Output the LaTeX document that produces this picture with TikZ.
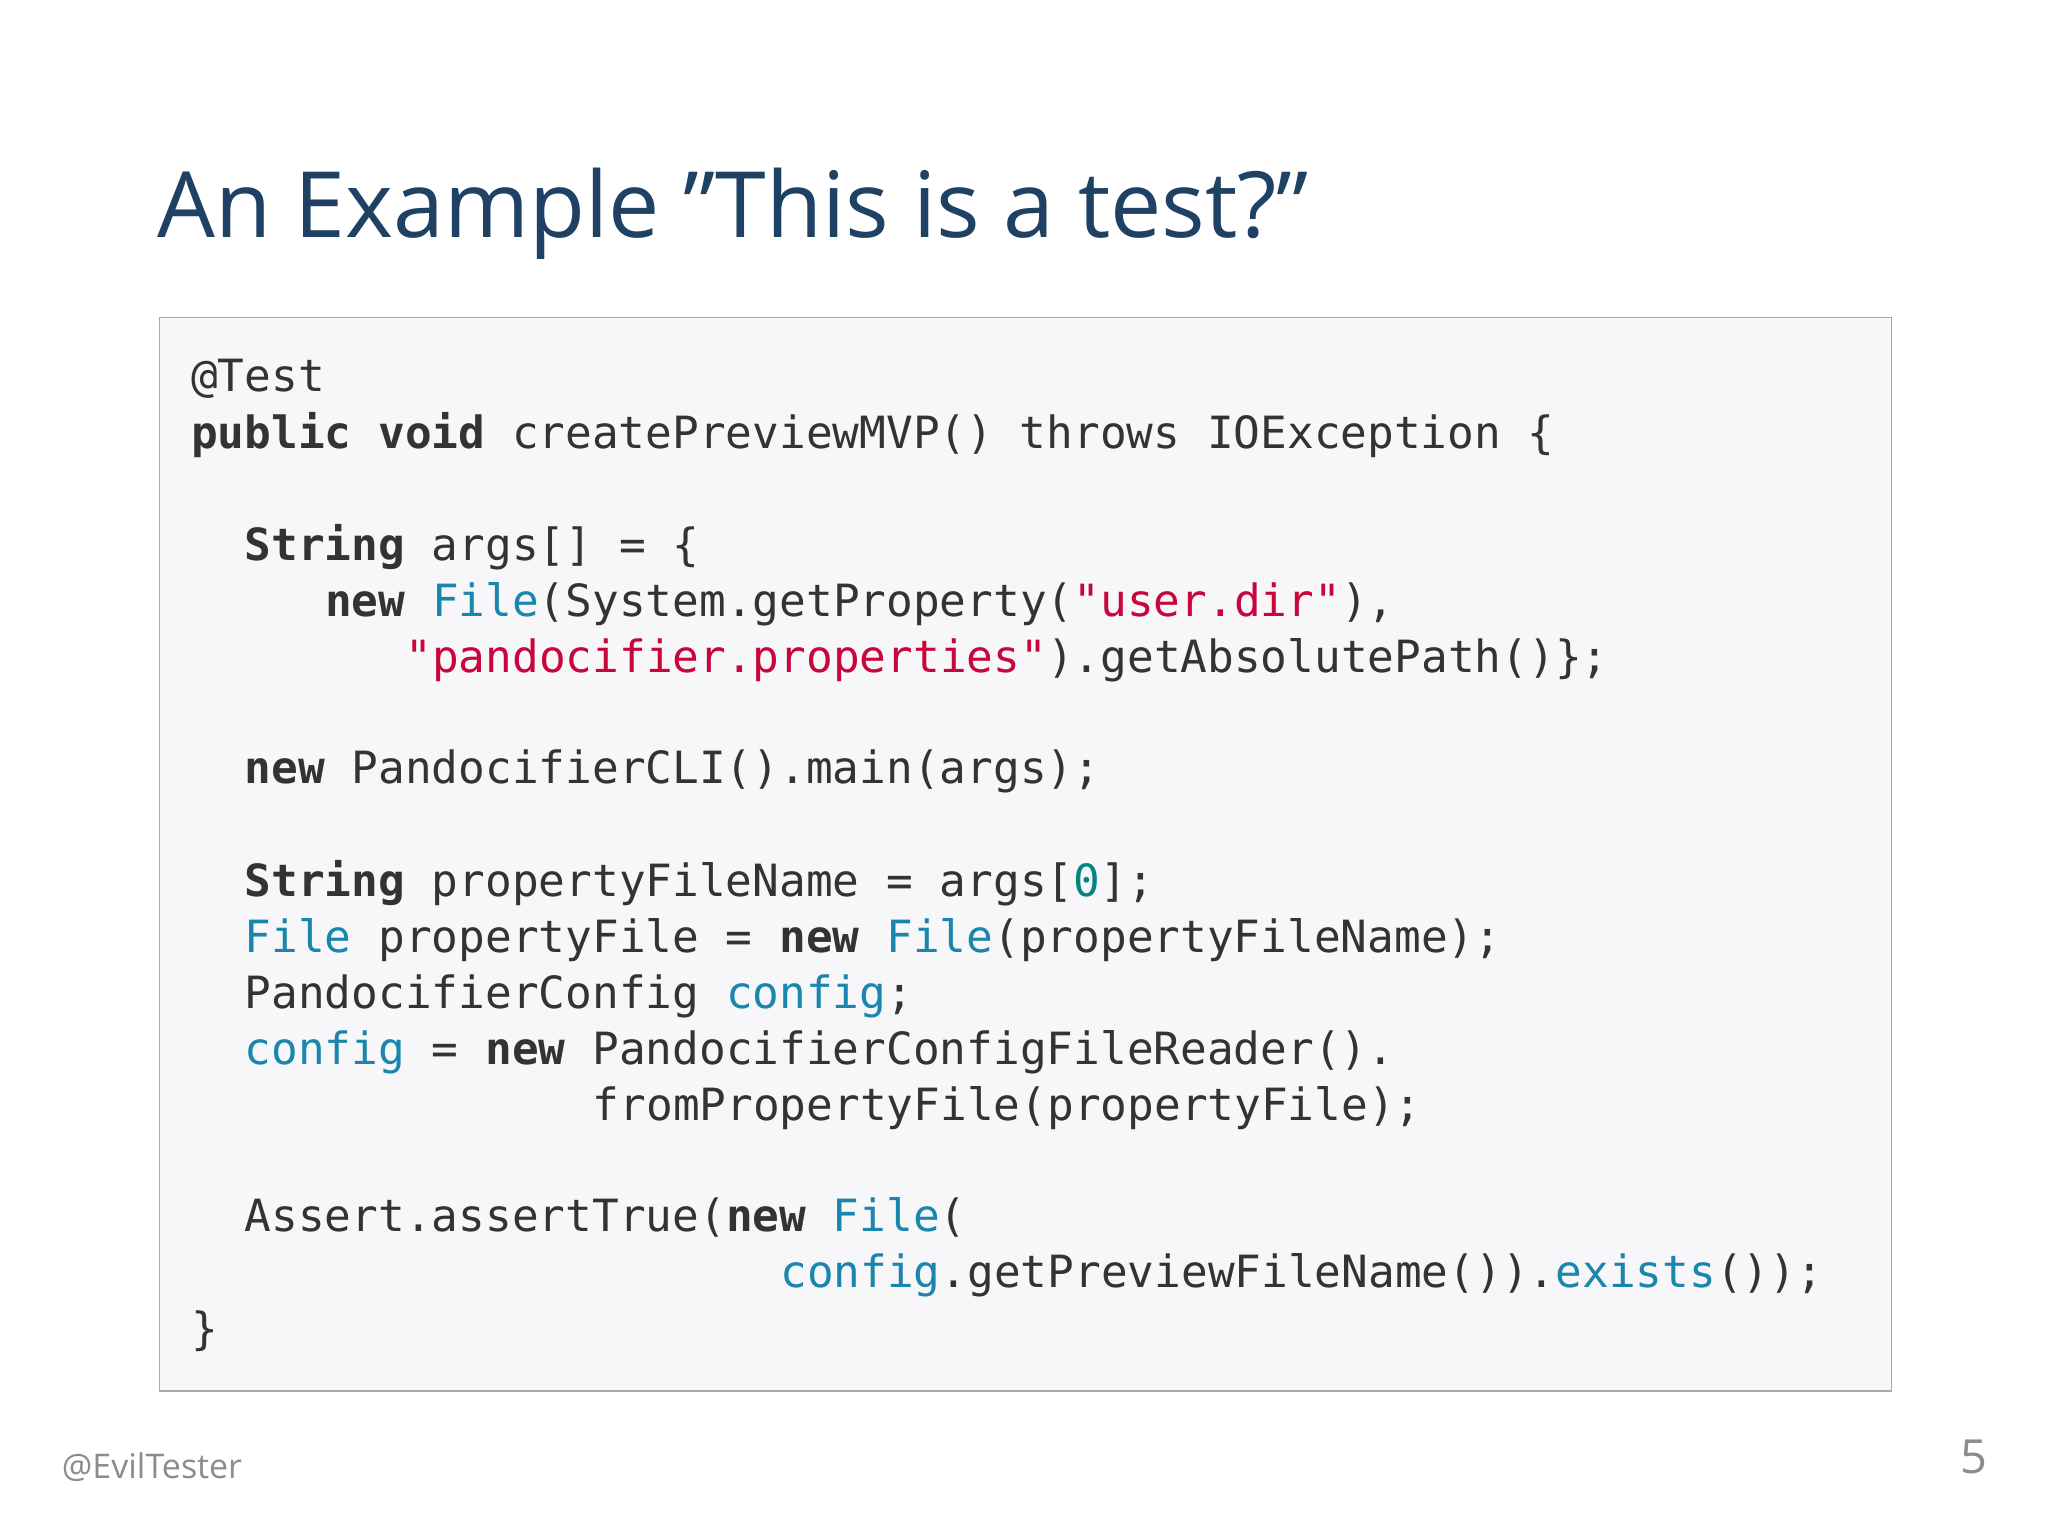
\documentclass[tikz,border=0pt]{standalone}
\usepackage{fontspec}
\setmainfont{Open Sans}
\setmonofont{DejaVu Sans Mono}
\definecolor{titleblue}{HTML}{1F4264}
\definecolor{codetxt}{HTML}{333333}
\definecolor{codeblue}{HTML}{1A86AE}
\definecolor{codered}{HTML}{C8063C}
\definecolor{codeteal}{HTML}{00877F}
\definecolor{boxfill}{HTML}{F7F6F8}
\definecolor{boxline}{HTML}{A8A8A8}
\newcommand\kwd[1]{\textbf{#1}}
\newcommand\cbl[1]{\textcolor{codeblue}{#1}}
\newcommand\crd[1]{\textcolor{codered}{#1}}
\begin{document}
\begin{tikzpicture}[x=0.5pt,y=-0.5pt,
  codeline/.style={anchor=base west,inner sep=0,font=\fontsize{17pt}{20pt}\ttfamily,text=codetxt}]
\useasboundingbox (0,0) rectangle (1568,1178);
\fill[white] (0,0) rectangle (1568,1178);
\node[anchor=base west,inner sep=0,font=\fontsize{35pt}{40pt}\selectfont,text=titleblue] (title) at (120,182) {An Example "This is a test?"};
\draw[boxline,fill=boxfill,line width=0.6pt] (122,243) rectangle (1448,1065);
\def\cw{20.5}
\node[codeline] (l1) at (146,300) {@Test};
\node[codeline] (l2) at (146,343) {\kwd{public} \kwd{void} createPreviewMVP() throws IOException \{};
\node[codeline] (l3) at (146+2*\cw,429) {\kwd{String} args[] = \{};
\node[codeline] (l4) at (146+5*\cw,472) {\kwd{new} \cbl{File}(System.getProperty(\crd{"user.dir"}),};
\node[codeline] (l5) at (146+8*\cw,515) {\crd{"pandocifier.properties"}).getAbsolutePath()\};};
\node[codeline] (l6) at (146+2*\cw,600) {\kwd{new} PandocifierCLI().main(args);};
\node[codeline] (l7) at (146+2*\cw,686) {\kwd{String} propertyFileName = args[\textcolor{codeteal}{0}];};
\node[codeline] (l8) at (146+2*\cw,729) {\cbl{File} propertyFile = \kwd{new} \cbl{File}(propertyFileName);};
\node[codeline] (l9) at (146+2*\cw,772) {PandocifierConfig \cbl{config};};
\node[codeline] (l10) at (146+2*\cw,815) {\cbl{config} = \kwd{new} PandocifierConfigFileReader().};
\node[codeline] (l11) at (146+15*\cw,858) {fromPropertyFile(propertyFile);};
\node[codeline] (l12) at (146+2*\cw,943) {Assert.assertTrue(\kwd{new} \cbl{File}(};
\node[codeline] (l13) at (146+22*\cw,986) {\cbl{config}.getPreviewFileName()).\cbl{exists}());};
\node[codeline] (l14) at (146,1029) {\}};
\node[anchor=base west,inner sep=0,font=\fontsize{13pt}{15pt}\selectfont,text=gray!90] (foot) at (47,1132) {@EvilTester};
\node[anchor=base east,inner sep=0,font=\fontsize{18pt}{20pt}\selectfont,text=gray!90] (page) at (1522,1128) {5};
\end{tikzpicture}
\end{document}
